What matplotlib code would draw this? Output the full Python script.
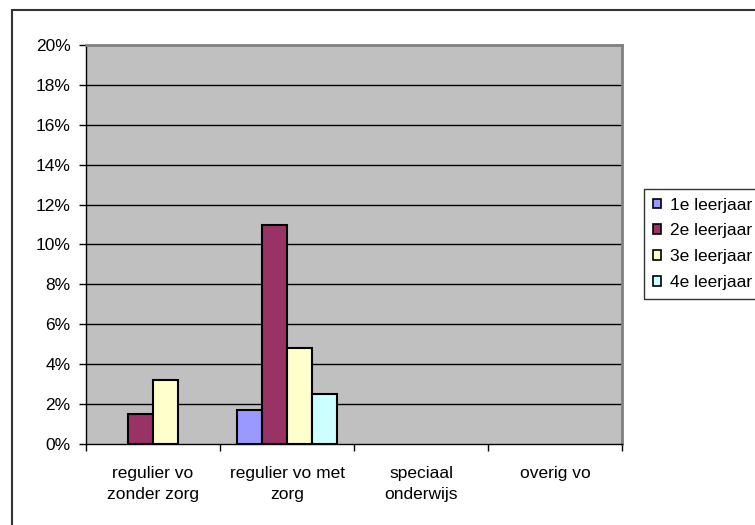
import numpy as np
import matplotlib
matplotlib.use("Agg")
import matplotlib.pyplot as plt
from matplotlib.patches import Rectangle

plt.rcParams['font.family'] = ['Liberation Sans', 'DejaVu Sans']

# data (percent)
categories = ['regulier vo\nzonder zorg', 'regulier vo met\nzorg', 'speciaal\nonderwijs', 'overig vo']
series_names = ['1e leerjaar', '2e leerjaar', '3e leerjaar', '4e leerjaar']
leerjaar1 = [0.0, 1.7, 0.0, 0.0]
leerjaar2 = [1.5, 11.0, 0.0, 0.0]
leerjaar3 = [3.2, 4.8, 0.0, 0.0]
leerjaar4 = [0.0, 2.5, 0.0, 0.0]
colors = ['#9999FF', '#993366', '#FFFFCC', '#CCFFFF']

fig = plt.figure(figsize=(7.55, 5.25), dpi=100)
fig.patch.set_facecolor('white')

# chart area border (runs off the right and bottom edge like the original)
top = 1 - 10 / 525
fig.patches.append(Rectangle((12 / 755, -0.2), 1.2, top + 0.2,
                             transform=fig.transFigure, fill=False,
                             edgecolor='#333333', linewidth=1.5, zorder=0))

ax = fig.add_axes([86 / 755, 1 - 444 / 525, (622 - 86) / 755, (444 - 45) / 525])
ax.set_facecolor('#C0C0C0')

x = np.arange(len(categories))
w = 0.187
all_series = [leerjaar1, leerjaar2, leerjaar3, leerjaar4]
for i, (vals, name, col) in enumerate(zip(all_series, series_names, colors)):
    vals = np.array(vals)
    pos = x + (i - 1.5) * w
    keep = vals > 0
    ax.bar(pos[keep], vals[keep], width=w, color=col, edgecolor='black',
           linewidth=1.5, label=name, zorder=3)

ax.set_ylim(0, 20)
ax.set_xlim(-0.5, len(categories) - 0.5)
yt = np.arange(0, 21, 2)
ax.set_yticks(yt)
ax.set_yticklabels(['%d%%' % v for v in yt])
for v in yt[1:-1]:
    ax.axhline(v, color='black', linewidth=1, zorder=1)

ax.set_xticks(np.arange(-0.5, len(categories)), minor=False)
ax.set_xticklabels([])
ax.set_xticks(x, minor=True)
ax.set_xticklabels(categories, minor=True, fontsize=12.5, linespacing=1.45)
ax.tick_params(axis='x', which='major', direction='out', length=5, width=1)
ax.tick_params(axis='x', which='minor', length=0, pad=16)
ax.tick_params(axis='y', direction='out', length=5, width=1, pad=6, labelsize=12.5)

ax.spines['left'].set_color('black')
ax.spines['bottom'].set_color('black')
ax.spines['left'].set_linewidth(1)
ax.spines['bottom'].set_linewidth(1)
ax.spines['top'].set_color('#808080')
ax.spines['right'].set_color('#808080')
ax.spines['top'].set_linewidth(2)
ax.spines['right'].set_linewidth(2)

leg = fig.legend(loc='upper left', bbox_to_anchor=(644 / 755, 1 - 189 / 525),
                 frameon=True, fancybox=False, fontsize=12.5,
                 handlelength=0.5, handleheight=0.5, handletextpad=0.5,
                 labelspacing=0.62, borderpad=0.5, borderaxespad=0)
leg.get_frame().set_edgecolor('black')
leg.get_frame().set_linewidth(1)
for h in leg.legend_handles:
    h.set_linewidth(1.2)

fig.savefig('out.png', dpi=100, facecolor='white')
